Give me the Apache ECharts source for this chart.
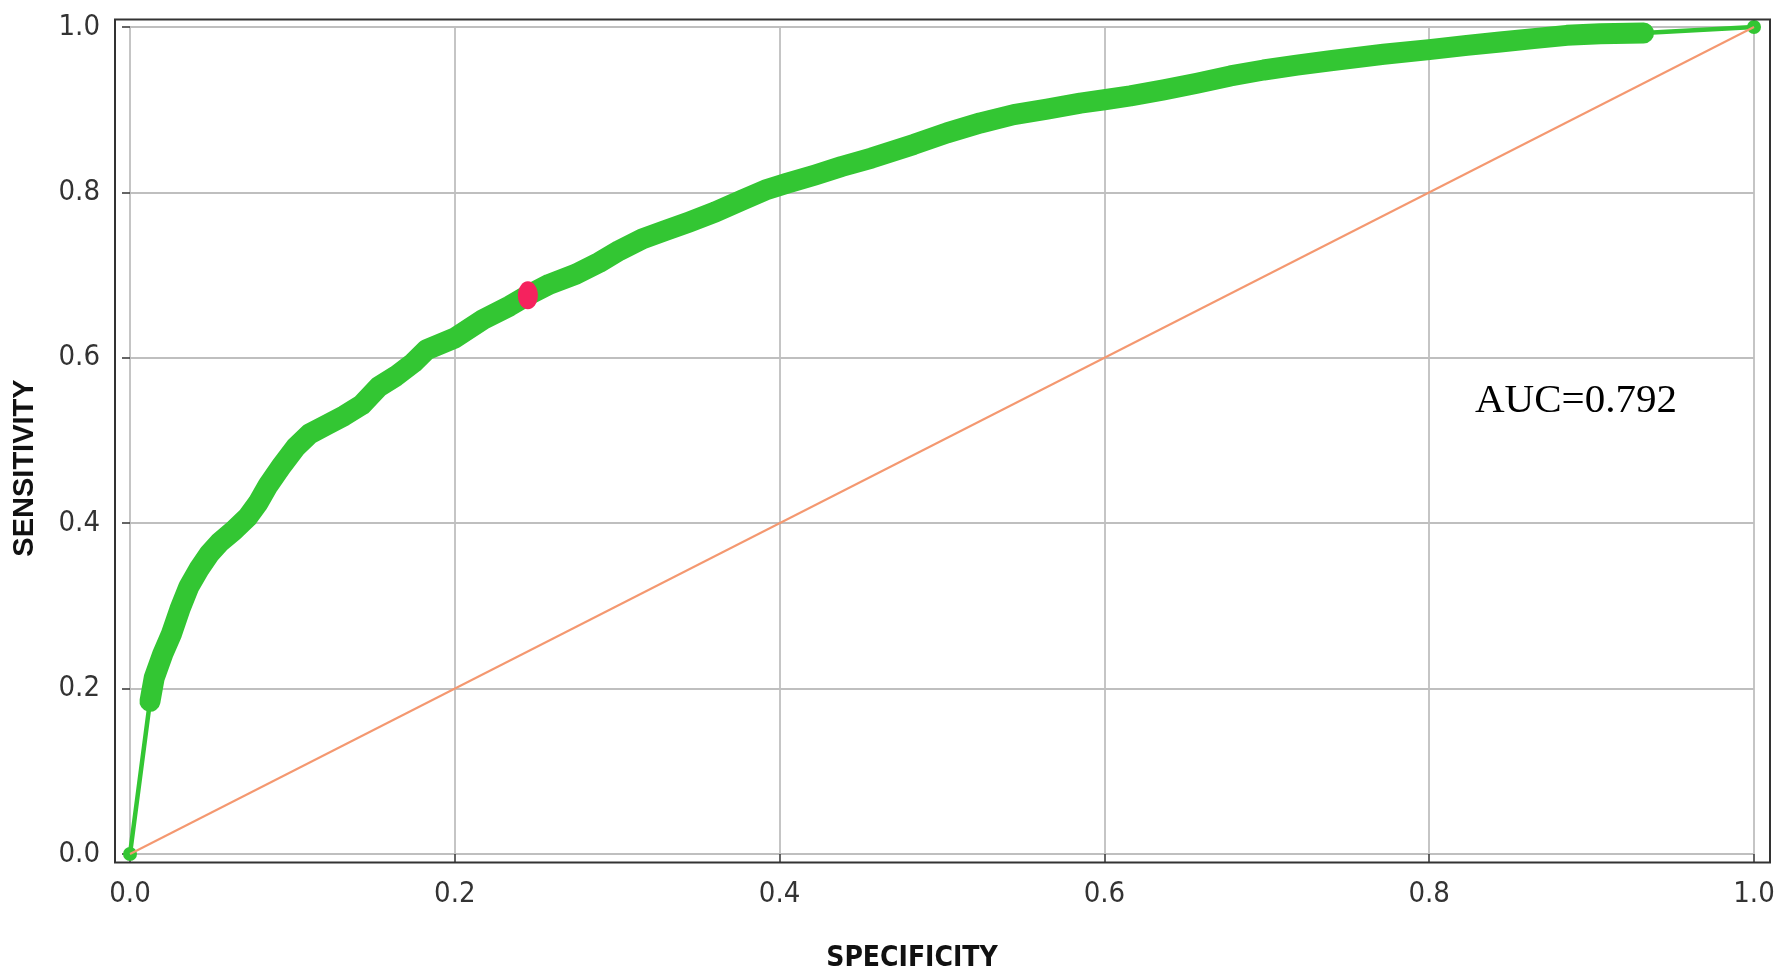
<!DOCTYPE html>
<html>
<head>
<meta charset="utf-8">
<script src="https://cdn.jsdelivr.net/npm/echarts@6/dist/echarts.min.js"></script>
<style>
html,body{margin:0;padding:0;background:#fff;}
#chart{width:1779px;height:975px;}
</style>
</head>
<body>
<div id="chart"></div>
<script>
// ROC curve points (x = "specificity" axis, y = sensitivity)
const specificity = [0, 0.0123, 0.0149, 0.0202, 0.0255, 0.0309, 0.0362, 0.0426, 0.0489, 0.0553,
  0.0638, 0.0723, 0.0787, 0.0851, 0.0936, 0.1021, 0.1106, 0.1213, 0.1319, 0.1426,
  0.1532, 0.1638, 0.1745, 0.1826, 0.2, 0.2174, 0.2337, 0.245, 0.2583, 0.2746,
  0.289, 0.3012, 0.3155, 0.3299, 0.3442, 0.3605, 0.3769, 0.3912, 0.4045, 0.4219,
  0.4382, 0.4566, 0.4826, 0.5031, 0.5236, 0.5442, 0.5647, 0.5852, 0.6, 0.616,
  0.6365, 0.657, 0.6776, 0.6981, 0.7186, 0.7392, 0.7719, 0.8, 0.8232, 0.8437,
  0.8642, 0.8848, 0.9053, 0.932, 1.0];
const sensitivity = [0, 0.1846, 0.213, 0.242, 0.266, 0.297, 0.323, 0.345, 0.363, 0.377,
  0.391, 0.407, 0.424, 0.446, 0.470, 0.492, 0.508, 0.519, 0.530, 0.543,
  0.565, 0.578, 0.594, 0.6098, 0.624, 0.6463, 0.6626, 0.6756, 0.689, 0.7012,
  0.7154, 0.7297, 0.7439, 0.754, 0.7642, 0.7764, 0.7907, 0.8028, 0.811, 0.8211,
  0.8313, 0.8415, 0.858, 0.872, 0.884, 0.894, 0.9008, 0.908, 0.912, 0.9168,
  0.924, 0.932, 0.9408, 0.948, 0.954, 0.9592, 0.967, 0.9726, 0.9778, 0.9819,
  0.9859, 0.9899, 0.9919, 0.9928, 1.0];
// dense (thick) part of the curve: index range in the arrays above
const denseStart = 1, denseEnd = 63;
// chance diagonal
const chanceX = [0, 1];
const chanceY = [0, 1];
// optimal cut-off point
const cutoffX = [0.245];
const cutoffY = [0.6756];
// axis ticks
const tickValues = [0, 0.2, 0.4, 0.6, 0.8, 1.0];
const aucText = 'AUC=0.792';
const xTitle = 'SPECIFICITY';
const yTitle = 'SENSITIVITY';

const zip = (xs, ys) => xs.map((x, i) => [x, ys[i]]);
const rocAll = zip(specificity, sensitivity);
const rocDense = rocAll.slice(denseStart, denseEnd + 1);
const rocEnds = [rocAll[0], rocAll[rocAll.length - 1]];

const labelFont = '"Liberation Sans Narrow", "DejaVu Sans Condensed", "Liberation Sans", sans-serif';
const GREEN = '#33c633';

const chart = echarts.init(document.getElementById('chart'));
chart.setOption({
  animation: false,
  backgroundColor: '#fff',
  grid: { left: 130, right: 25, top: 27, bottom: 121, containLabel: false },
  xAxis: {
    type: 'value', min: 0, max: 1, interval: 0.2, offset: 8,
    axisLine: { show: false },
    axisTick: { show: true, length: 9, lineStyle: { color: '#333', width: 1.5 } },
    axisLabel: { fontFamily: labelFont, fontSize: 29, color: '#333', margin: 18,
      formatter: v => tickValues.includes(+v.toFixed(1)) ? v.toFixed(1) : '' },
    splitLine: { show: true, lineStyle: { color: '#bfbfbf', width: 1.8 } }
  },
  yAxis: {
    type: 'value', min: 0, max: 1, interval: 0.2, offset: 15,
    axisLine: { show: false },
    axisTick: { show: true, length: 8, lineStyle: { color: '#333', width: 1.5 } },
    axisLabel: { fontFamily: labelFont, fontSize: 29, color: '#333', margin: 15,
      formatter: v => v.toFixed(1) },
    splitLine: { show: true, lineStyle: { color: '#bfbfbf', width: 1.8 } }
  },
  graphic: [
    { type: 'rect', z: 100, silent: true,
      shape: { x: 115, y: 19.5, width: 1655, height: 843 },
      style: { fill: 'none', stroke: '#333', lineWidth: 2 } },
    { type: 'text', z: 100, x: 912, y: 959,
      style: { text: xTitle, x: 0, y: 0, align: 'center', verticalAlign: 'middle',
        font: 'bold 28px ' + labelFont, fill: '#111' } },
    { type: 'text', z: 100, x: 25, y: 468, rotation: Math.PI / 2,
      style: { text: yTitle, x: 0, y: 0, align: 'center', verticalAlign: 'middle',
        font: 'bold 29px "Liberation Sans", Arial, sans-serif', fill: '#111' } },
    { type: 'text', z: 100, x: 1475, y: 401,
      style: { text: aucText, x: 0, y: 0, align: 'left', verticalAlign: 'middle',
        font: '41px "Liberation Serif", "Times New Roman", serif', fill: '#000' } }
  ],
  series: [
    { type: 'line', data: rocAll, showSymbol: false, clip: false, z: 2,
      lineStyle: { color: GREEN, width: 4.5 } },
    { type: 'line', data: rocDense, showSymbol: false, clip: false, z: 3,
      lineStyle: { color: GREEN, width: 21, cap: 'round', join: 'round' } },
    { type: 'scatter', data: rocEnds, symbol: 'circle', symbolSize: 14, clip: false, z: 3,
      itemStyle: { color: GREEN, opacity: 1 } },
    { type: 'line', data: zip(chanceX, chanceY), showSymbol: false, clip: false, z: 4,
      lineStyle: { color: '#f49870', width: 2 } },
    { type: 'scatter', data: zip(cutoffX, cutoffY), symbol: 'circle', symbolSize: [20, 28], z: 5,
      itemStyle: { color: '#f5225e', opacity: 1 } }
  ]
});
</script>
</body>
</html>
